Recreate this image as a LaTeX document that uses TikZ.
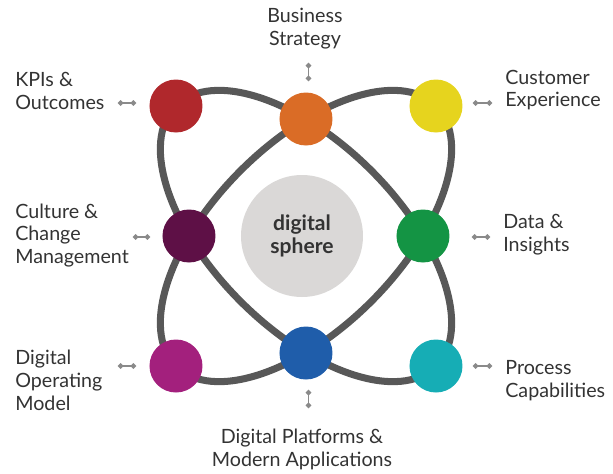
\documentclass[tikz,border=0pt]{standalone}
\usepackage{fontspec}
\setmainfont{Lato}
\usepackage{xcolor}
\usetikzlibrary{arrows.meta}
\definecolor{orbitgray}{RGB}{88,88,88}
\definecolor{spheregray}{RGB}{218,216,215}
\definecolor{labeltext}{RGB}{51,51,51}
\definecolor{tickgray}{RGB}{138,138,138}
\definecolor{kpired}{RGB}{176,40,44}
\definecolor{strategyorange}{RGB}{218,108,38}
\definecolor{customeryellow}{RGB}{230,212,30}
\definecolor{culturepurple}{RGB}{94,16,70}
\definecolor{datagreen}{RGB}{20,148,68}
\definecolor{operatingmagenta}{RGB}{163,32,125}
\definecolor{platformblue}{RGB}{31,93,170}
\definecolor{processteal}{RGB}{22,173,181}

\tikzset{
  hub/.style={circle, minimum size=1.06cm, inner sep=0pt},
  caption/.style={text=labeltext, inner sep=0pt, font=\fontsize{11.2}{13}\selectfont},
  tick/.style={tickgray, line width=0.85pt, {Circle[length=3pt]}-{Circle[length=3pt]}}
}

\begin{document}
\begin{tikzpicture}
\useasboundingbox (-6.12,-4.74) rectangle (6.14,4.72);

% 1. ORBITS
\draw[orbitgray, line width=4pt, rotate=45] (0,0) ellipse (3.68cm and 1.85cm);
\draw[orbitgray, line width=4pt, rotate=-45] (0,0) ellipse (3.68cm and 1.85cm);

% 2. CORE
\node[circle, fill=spheregray, minimum size=2.44cm, inner sep=0pt, text=labeltext,
      align=center, font=\fontsize{12}{12.8}\selectfont\bfseries] (core) at (-0.08,0) {digital\\sphere};

% 3. HUBS ON THE ORBITS
\node[hub, fill=kpired] (kpi) at (-2.6,2.6) {};
\node[hub, fill=strategyorange] (strategy) at (0,2.34) {};
\node[hub, fill=customeryellow] (customer) at (2.6,2.6) {};
\node[hub, fill=culturepurple] (culture) at (-2.34,0) {};
\node[hub, fill=datagreen] (data) at (2.34,0) {};
\node[hub, fill=operatingmagenta] (operating) at (-2.6,-2.6) {};
\node[hub, fill=platformblue] (platform) at (0,-2.34) {};
\node[hub, fill=processteal] (process) at (2.6,-2.6) {};

% 4. LABELS
\node[caption, anchor=west, align=left] (kpi-label) at (-5.82,2.90) {KPIs \&\\Outcomes};
\node[caption, align=center] (strategy-label) at (-0.02,4.14) {Business\\Strategy};
\node[caption, anchor=west, align=left] (customer-label) at (3.98,2.92) {Customer\\Experience};
\node[caption, anchor=west, align=left] (culture-label) at (-5.82,0.01) {Culture \&\\Change\\Management};
\node[caption, anchor=west, align=left] (data-label) at (3.94,0.02) {Data \&\\Insights};
\node[caption, anchor=west, align=left] (operating-label) at (-5.82,-2.88) {Digital\\Operating\\Model};
\node[caption, anchor=west, align=left] (process-label) at (3.98,-2.89) {Process\\Capabilities};
\node[caption, align=center] (platform-label) at (-0.08,-4.27) {Digital Platforms \&\\Modern Applications};

% Small pointer ticks
\coordinate (kpi-a) at (-3.76,2.66);      \coordinate (kpi-b) at (-3.40,2.66);
\coordinate (strategy-a) at (0.05,3.46);  \coordinate (strategy-b) at (0.05,3.10);
\coordinate (customer-a) at (3.34,2.66);  \coordinate (customer-b) at (3.72,2.66);
\coordinate (culture-a) at (-3.46,-0.02); \coordinate (culture-b) at (-3.12,-0.02);
\coordinate (data-a) at (3.32,-0.02);     \coordinate (data-b) at (3.68,-0.02);
\coordinate (operating-a) at (-3.76,-2.60); \coordinate (operating-b) at (-3.40,-2.60);
\coordinate (process-a) at (3.34,-2.60);  \coordinate (process-b) at (3.72,-2.60);
\coordinate (platform-a) at (0.05,-3.08); \coordinate (platform-b) at (0.05,-3.44);

\foreach \t in {kpi,strategy,customer,culture,data,operating,process,platform}
  \draw[tick] (\t-a) -- (\t-b);

\end{tikzpicture}
\end{document}
